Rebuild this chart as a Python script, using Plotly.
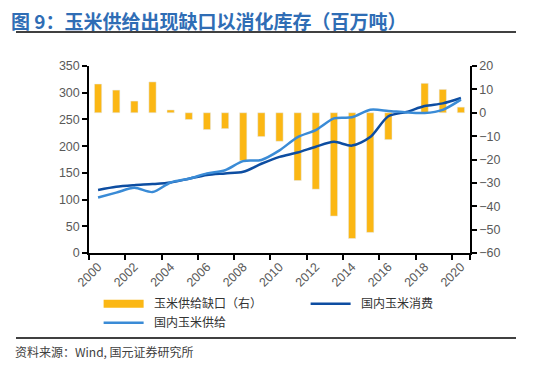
import plotly.graph_objects as go

years = [str(y) for y in range(2000, 2021)]
gap = [12.3, 9.7, 5.0, 13.2, 1.2, -2.9, -7.2, -6.8, -20.5, -10.2, -12.2,
       -29.0, -32.7, -44.2, -53.8, -51.2, -11.5, 0.3, 12.6, 10.0, 2.4]
consumption = [118, 124, 127, 129, 132, 139, 146, 149, 152, 167, 180,
               188, 199, 208, 201, 217, 256, 264, 275, 280, 290]
supply = [104, 113, 122, 114, 132, 139, 149, 155, 172, 174, 192,
          217, 230, 252, 254, 268, 266, 263, 262, 268, 287]

gap_name = "玉米供给缺口（右）"
cons_name = "国内玉米消费"
supply_name = "国内玉米供给"
title_text = "图 9：玉米供给出现缺口以消化库存（百万吨）"
source_text = "资料来源：Wind, 国元证券研究所"

BAR = "#FBB714"
DARK = "#0D4DA1"
LIGHT = "#3A8BD6"
GRAY = "#595959"
FONT = "Liberation Sans, Arial, Noto Sans CJK SC, sans-serif"
PAD = "\u00a0\u00a0"

fig = go.Figure()
fig.add_trace(go.Bar(x=years, y=gap, yaxis="y", marker_color=BAR, width=0.4,
                     name=gap_name, showlegend=False))
fig.add_trace(go.Scatter(x=[None], y=[None], yaxis="y", mode="lines",
                         line=dict(color=BAR, width=8), name=PAD + gap_name))
fig.add_trace(go.Scatter(x=years, y=consumption, yaxis="y2", mode="lines",
                         line=dict(color=DARK, width=2.5, shape="spline", smoothing=0.8),
                         name=PAD + cons_name))
fig.add_trace(go.Scatter(x=years, y=supply, yaxis="y2", mode="lines",
                         line=dict(color=LIGHT, width=2.5, shape="spline", smoothing=0.8),
                         name=PAD + supply_name))

axis_common = dict(showgrid=False, zeroline=False, showline=True, linecolor="black",
                   linewidth=1.5, ticks="outside", ticklen=5, tickwidth=1.5,
                   tickcolor="black", tickfont=dict(family=FONT, size=12.5, color=GRAY))

# page body has an 8px margin, so the figure is 526x360 and placed at (8, 8)
fig.update_layout(
    width=526, height=360,
    margin=dict(l=81, r=64, t=58, b=115),
    paper_bgcolor="white", plot_bgcolor="white",
    font=dict(family=FONT, size=12, color="#333333"),
    xaxis=dict(type="category", tickson="boundaries",
               tickmode="array", tickvals=years[::2], ticktext=years[::2],
               tickangle=-45, **axis_common),
    yaxis=dict(side="right", range=[-60, 20], dtick=10, **axis_common),
    yaxis2=dict(side="left", overlaying="y", range=[0, 350], dtick=50, **axis_common),
    legend=dict(orientation="h", x=-0.001, xanchor="left", y=-0.14, yanchor="top",
                entrywidth=152, entrywidthmode="pixels", itemwidth=40,
                borderwidth=10, bordercolor="rgba(0,0,0,0)",
                font=dict(family="Noto Sans CJK SC, sans-serif", size=12, color="#333333"),
                tracegroupgap=0, bgcolor="rgba(0,0,0,0)"),
    showlegend=True,
)

fig.add_annotation(text="<b>" + title_text + "</b>", xref="paper", yref="paper",
                   x=(10 - 89) / 381, y=(253 - 20.5) / 187, xanchor="left", yanchor="middle",
                   showarrow=False, borderpad=0,
                   font=dict(family="Noto Sans CJK SC, sans-serif", size=19, color="#2F6DB5"))
fig.add_annotation(text=source_text, xref="paper", yref="paper",
                   x=(13 - 89) / 381, y=(253 - 351) / 187, xanchor="left", yanchor="middle",
                   showarrow=False,
                   font=dict(family="Noto Sans CJK SC, sans-serif", size=12, color="#404040"))
for ypix in (32, 338):
    fig.add_shape(type="line", xref="paper", yref="paper", layer="above",
                  x0=(16 - 89) / 381, x1=(516 - 89) / 381,
                  y0=(253 - ypix) / 187, y1=(253 - ypix) / 187,
                  line=dict(color="black", width=1.5))

fig.write_html("out.html")
